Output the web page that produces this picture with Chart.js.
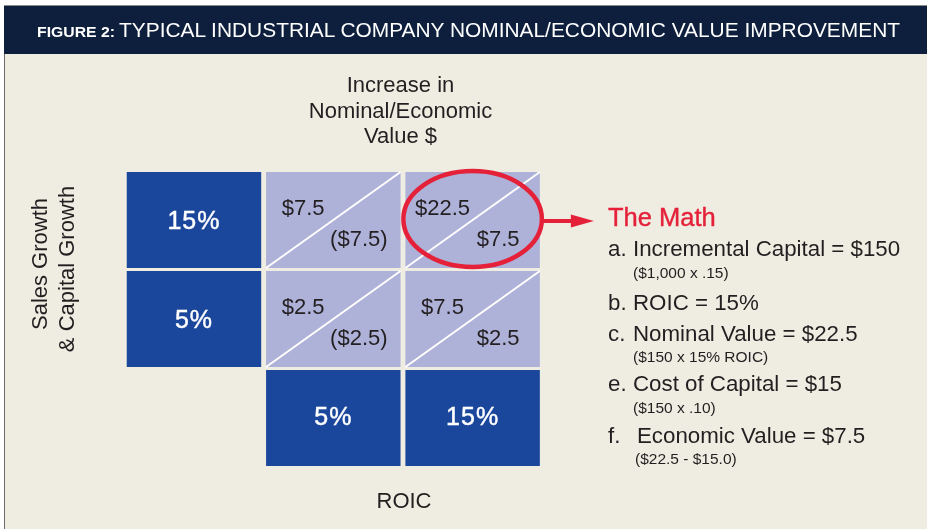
<!DOCTYPE html>
<html>
<head>
<meta charset="utf-8">
<script src="https://cdn.jsdelivr.net/npm/chart.js@4.4.0/dist/chart.umd.min.js"></script>
<style>
  html, body { margin: 0; padding: 0; background: #fff; }
  #page { position: relative; width: 927px; height: 529px; overflow: hidden;
          font-family: 'Liberation Sans', Arial, Helvetica, sans-serif; color: #231f20; }
  #panel { position: absolute; left: 4px; top: 54px; width: 923px; height: 475px;
           background: #efece2; border-left: 1px solid #6d6d6d; box-sizing: border-box; }
  #header { position: absolute; left: 4px; top: 5px; width: 923px; height: 49px;
            background: #0d1f3c; border-top: 1px solid #8a8a8a; box-sizing: border-box; }
  .t { position: absolute; white-space: nowrap; z-index: 2; }
  canvas { position: absolute; left: 0; top: 0; z-index: 1; }
</style>
</head>
<body>
<div id="page">
  <div id="header"></div>
  <div id="panel"></div>
  <canvas id="matrix" width="927" height="529"></canvas>
</div>
<script>
// --- data ---
const rowLabels = ['15%', '5%'];          // sales & capital growth
const colLabels = ['5%', '15%'];          // ROIC
const nominalValue = [[7.5, 22.5], [2.5, 7.5]];
const economicValue = [[-7.5, 7.5], [-2.5, 2.5]];
const highlight = { row: 0, col: 1 };

const titleLead = 'FIGURE 2:';
const titleText = 'TYPICAL INDUSTRIAL COMPANY NOMINAL/ECONOMIC VALUE IMPROVEMENT';
const topLabel = ['Increase in', 'Nominal/Economic', 'Value $'];
const sideLabel = ['Sales Growth', '& Capital Growth'];
const bottomLabel = 'ROIC';
const mathTitle = 'The Math';
const mathLines = [
    ['a.', 'Incremental Capital = $150', '($1,000 x .15)'],
    ['b.', 'ROIC = 15%', null],
    ['c.', 'Nominal Value = $22.5', '($150 x 15% ROIC)'],
    ['e.', 'Cost of Capital = $15', '($150 x .10)'],
    ['f.', 'Economic Value = $7.5', '($22.5 - $15.0)']
];

const DARK = '#1a469c';
const LIGHT = '#aeb1d8';
const RED = '#e5213a';
const FONT = '"Liberation Sans", Arial, Helvetica, sans-serif';

const fmt = v => v < 0 ? '($' + Math.abs(v) + ')' : '$' + v;

// --- html text helper: y is the cap-height centre ---
const page = document.getElementById('page');
function text(str, x, y, size, opts = {}) {
    const d = document.createElement('div');
    d.className = 't';
    d.textContent = str;
    const lh = Math.round(size * 1.2);
    d.style.fontSize = size + 'px';
    d.style.lineHeight = lh + 'px';
    d.style.left = x + 'px';
    d.style.top = (y - lh / 2) + 'px';
    if (opts.center) d.style.transform = 'translateX(-50%)';
    if (opts.rotate) {
        d.style.top = y + 'px';
        d.style.transform = 'translate(-50%,-50%) rotate(-90deg)';
    }
    Object.assign(d.style, opts.style || {});
    page.appendChild(d);
    return d;
}
function fit(el, w) {
    el.style.transformOrigin = 'left center';
    el.style.transform = 'scaleX(' + (w / el.getBoundingClientRect().width) + ')';
}

fit(text(titleLead, 37, 32.5, 14, { style: { color: '#fff', fontWeight: 'bold' } }), 78);
fit(text(titleText, 119, 30.3, 20, { style: { color: '#fff' } }), 781);

[84.5, 111.3, 135.8].forEach((y, i) => text(topLabel[i], 400.5, y, 22, { center: true }));
text(bottomLabel, 404, 501, 22, { center: true });
text(sideLabel[0], 40, 264, 22, { rotate: true });
text(sideLabel[1], 66.5, 269, 22, { rotate: true });

text(mathTitle, 608, 217, 25.5, { style: { color: RED, webkitTextStroke: '0.4px ' + RED } });
const mainY = [248, 302, 333, 383, 435];
const subY = [272, null, 356, 407, 458.5];
mathLines.forEach((m, i) => {
    text(m[0], 608, mainY[i], 22.3);
    text(m[1], i === 4 ? 637 : 633, mainY[i], 22.3);
    if (m[2]) text(m[2], i === 4 ? 635 : 633, subY[i], 15.5);
});

// --- matrix: one floating-bar dataset per row, columns on the category axis ---
const nRows = rowLabels.length + 1;
const datasets = [];
for (let r = 0; r < nRows; r++) {
    const data = [], colors = [];
    for (let c = 0; c <= colLabels.length; c++) {
        const isAxisRow = r === rowLabels.length;
        if (isAxisRow && c === 0) { data.push(null); colors.push('rgba(0,0,0,0)'); continue; }
        data.push([r - 0.485, r + 0.485]);
        colors.push(isAxisRow || c === 0 ? DARK : LIGHT);
    }
    datasets.push({ data, backgroundColor: colors, borderWidth: 0, grouped: false,
                    barPercentage: 0.965, categoryPercentage: 1 });
}

function cell(chart, r, c) {
    const b = chart.getDatasetMeta(r).data[c];
    const top = Math.min(b.y, b.base), bottom = Math.max(b.y, b.base);
    return { l: b.x - b.width / 2, r: b.x + b.width / 2, t: top, b: bottom,
             w: b.width, h: bottom - top, cx: b.x, cy: (top + bottom) / 2 };
}

const matrixText = {
    id: 'matrixText',
    afterDatasetsDraw(chart) {
        const ctx = chart.ctx;
        ctx.save();
        ctx.textBaseline = 'middle';
        ctx.textAlign = 'center';

        const big = (s, x, y) => {
            ctx.font = '25px ' + FONT;
            ctx.letterSpacing = '1px';
            ctx.fillStyle = '#fff';
            ctx.strokeStyle = '#fff';
            ctx.lineWidth = 0.45;
            ctx.fillText(s, x, y);
            ctx.strokeText(s, x, y);
            ctx.letterSpacing = '0px';
        };
        rowLabels.forEach((s, r) => { const k = cell(chart, r, 0); big(s, k.cx, k.cy + 2); });
        colLabels.forEach((s, c) => { const k = cell(chart, rowLabels.length, c + 1); big(s, k.cx, k.cy); });

        for (let r = 0; r < rowLabels.length; r++) {
            for (let c = 0; c < colLabels.length; c++) {
                const k = cell(chart, r, c + 1);
                ctx.strokeStyle = '#fff';
                ctx.lineWidth = 2;
                ctx.beginPath();
                ctx.moveTo(k.l, k.b);
                ctx.lineTo(k.r, k.t);
                ctx.stroke();

                ctx.font = '22px ' + FONT;
                ctx.fillStyle = '#231f20';
                ctx.fillText(fmt(nominalValue[r][c]), k.l + 0.276 * k.w, k.t + 0.38 * k.h);
                ctx.fillText(fmt(economicValue[r][c]), k.l + 0.69 * k.w, k.t + 0.705 * k.h);
            }
        }

        // highlight ring and arrow to "The Math"
        const k = cell(chart, highlight.row, highlight.col + 1);
        const rx = 0.515 * k.w, ry = 0.5 * k.h;
        ctx.strokeStyle = RED;
        ctx.lineWidth = 4.5;
        ctx.beginPath();
        ctx.ellipse(k.cx, k.cy - 1, rx, ry, 0, 0, Math.PI * 2);
        ctx.stroke();

        const x0 = k.cx + rx, tip = x0 + 52, ay = k.cy + 1;
        ctx.lineWidth = 4;
        ctx.beginPath();
        ctx.moveTo(x0, ay);
        ctx.lineTo(tip - 20, ay);
        ctx.stroke();
        ctx.fillStyle = RED;
        ctx.beginPath();
        ctx.moveTo(tip, ay);
        ctx.lineTo(tip - 23, ay - 6.5);
        ctx.lineTo(tip - 23, ay + 6.5);
        ctx.closePath();
        ctx.fill();
        ctx.restore();
    }
};

new Chart(document.getElementById('matrix').getContext('2d'), {
    type: 'bar',
    data: { labels: [''].concat(colLabels), datasets },
    options: {
        responsive: false,
        animation: false,
        layout: { padding: { left: 124.3, right: 384.7, top: 170.5, bottom: 61.5 } },
        plugins: { legend: { display: false }, tooltip: { enabled: false } },
        scales: {
            x: { display: false },
            y: { display: false, min: -0.5, max: 2.5, reverse: true }
        }
    },
    plugins: [matrixText]
});
</script>
</body>
</html>
